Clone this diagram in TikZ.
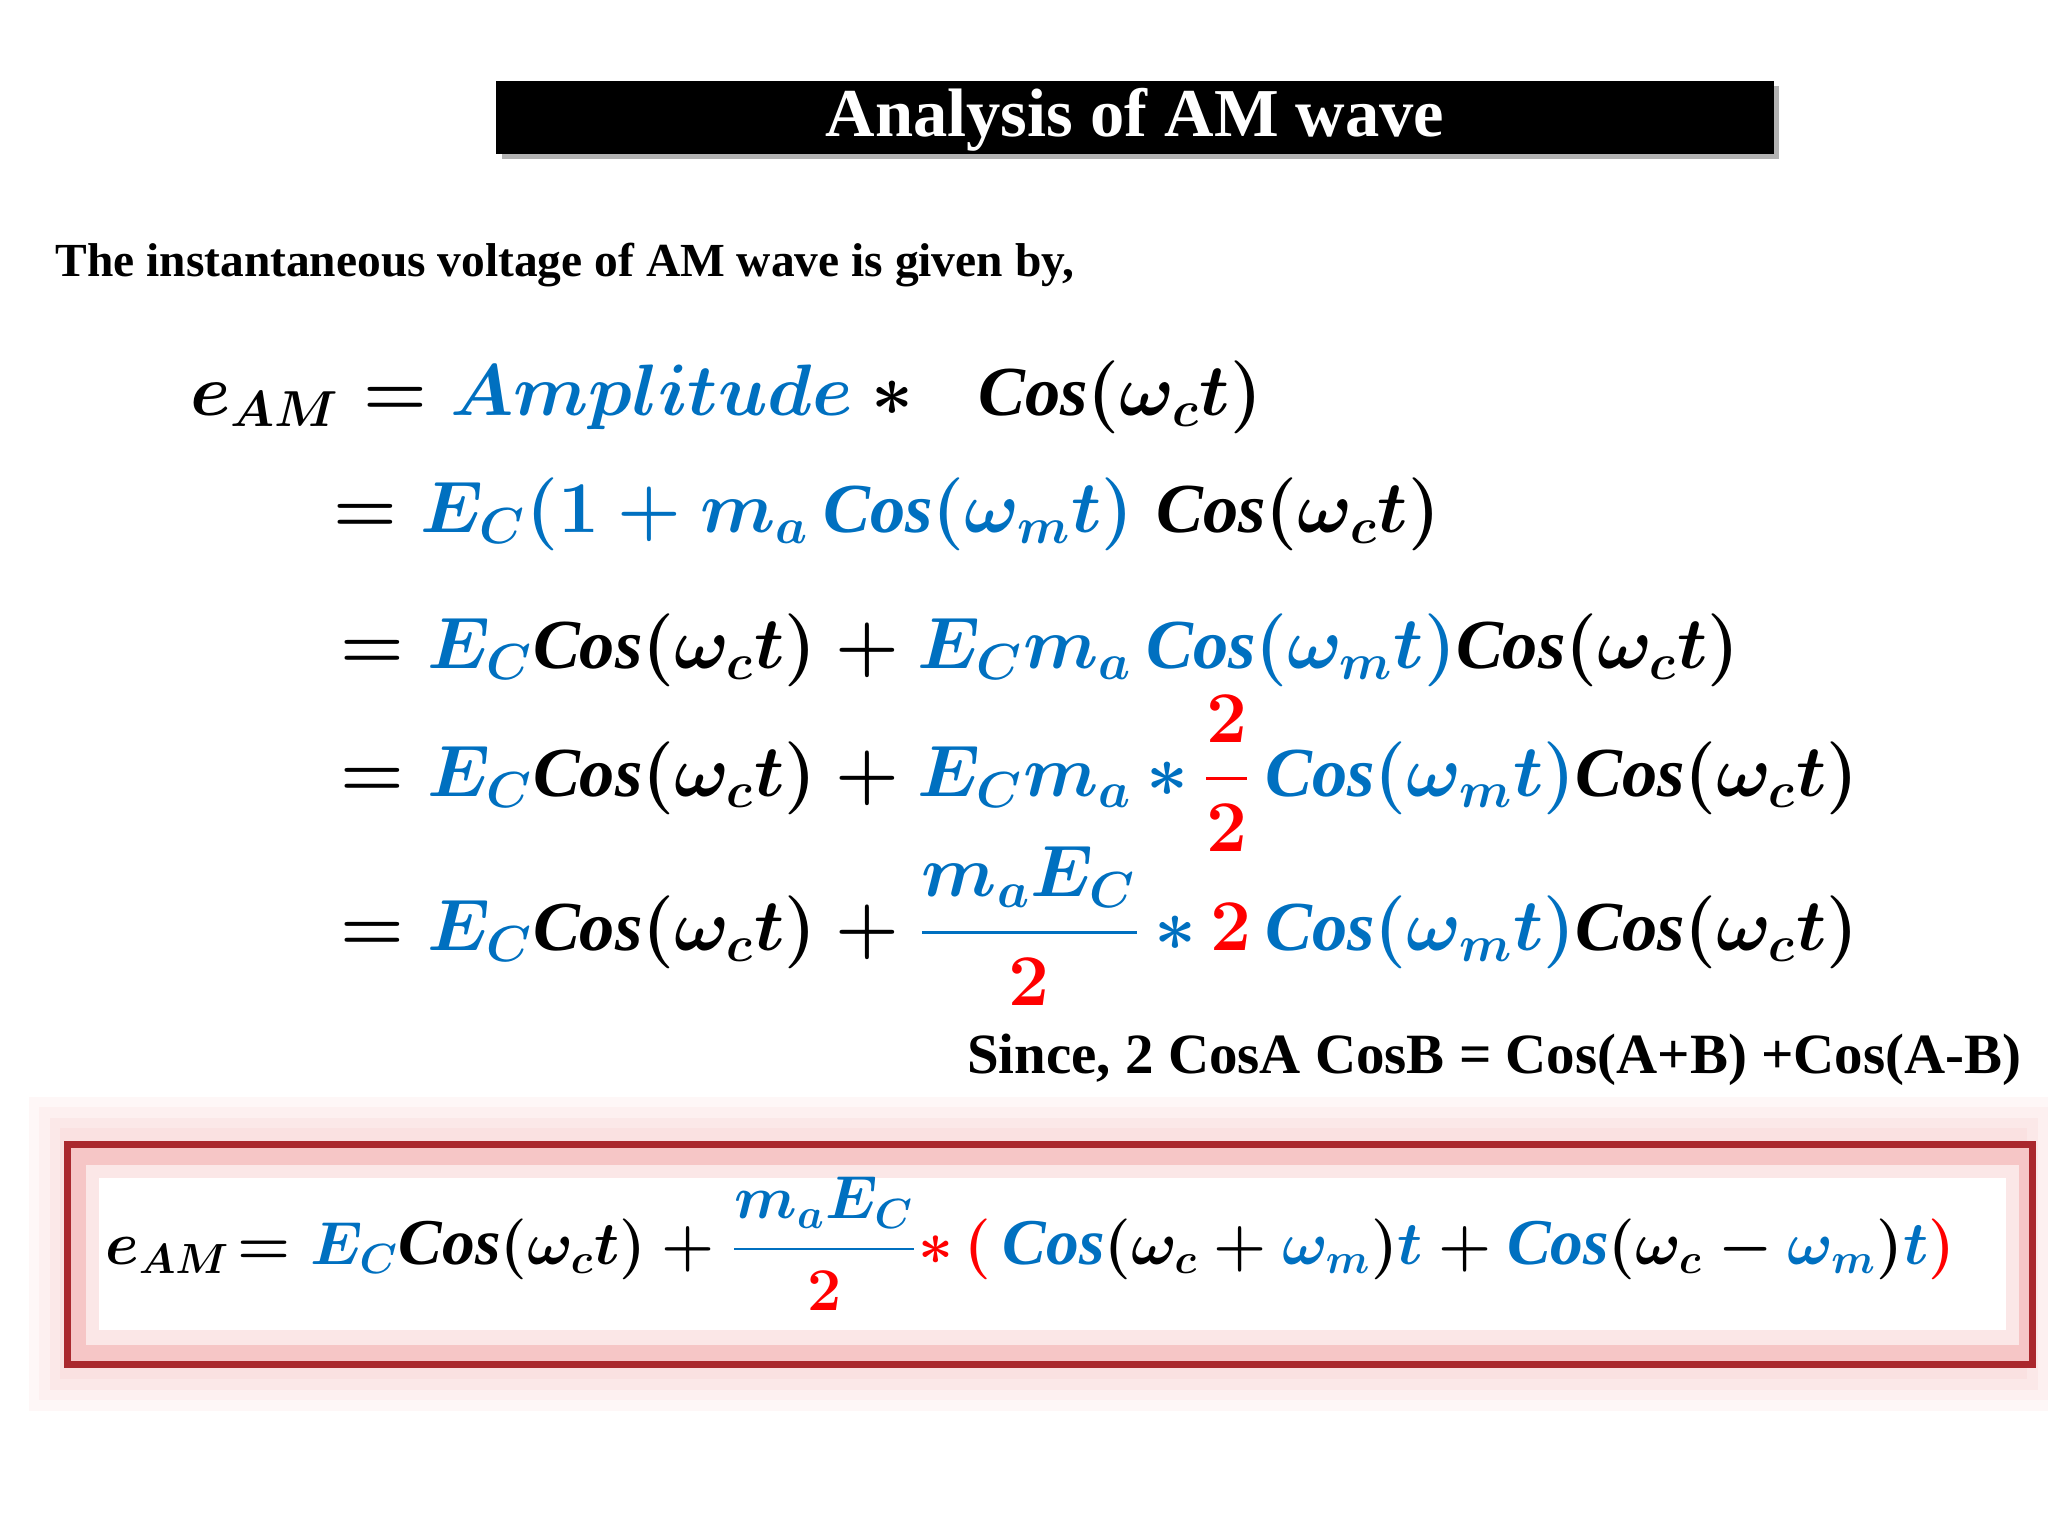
\documentclass[tikz,border=0pt]{standalone}
\usepackage{amsmath}
\usepackage{fontspec}
\setmainfont{Liberation Serif}
\definecolor{bl}{RGB}{0,112,192}
\definecolor{rd}{RGB}{255,0,0}
\definecolor{dr}{RGB}{170,40,45}
\definecolor{pk}{RGB}{240,160,160}
\newcommand{\B}[1]{{\color{bl}#1}}
\newcommand{\R}[1]{{\color{rd}#1}}
\newcommand{\Co}{\mathit{Cos}}
\begin{document}
\begin{tikzpicture}[x=0.01306cm,y=-0.01306cm,
  eq/.style={anchor=base west,inner sep=0pt,font=\fontsize{20}{24}\selectfont\boldmath},
  txt/.style={anchor=base west,inner sep=0pt,font=\fontsize{13.5}{16}\selectfont\bfseries}]
\useasboundingbox (0,0) rectangle (1568,1176);
\fill[gray!60] (384,66) rectangle (1362,122);
\fill[black] (380,62) rectangle (1358,118);
\node[font=\fontsize{19.5}{22}\selectfont\bfseries,text=white] (title) at (869,92) {Analysis of AM wave};
\node[txt] (intro) at (42,212) {The instantaneous voltage of AM wave is given by,};
\node[eq] (l1) at (145,318) {$e_{AM}=\B{Amplitude}*\;\;\Co(\omega_ct)$};
\node[eq] (l2) at (255,408) {$=\B{E_C(1+m_a\,\Co(\omega_mt)}\;\Co(\omega_ct)$};
\node[eq] (l3) at (260,512) {$=\B{E_C}\Co(\omega_ct)+\B{E_Cm_a\,\Co(\omega_mt)}\Co(\omega_ct)$};
\node[eq] (l4) at (260,610) {$=\B{E_C}\Co(\omega_ct)+\B{E_Cm_a}\,\B{*}\,\R{\dfrac{2}{2}}\,\B{\Co(\omega_mt)}\Co(\omega_ct)$};
\node[eq] (l5) at (260,728) {$=\B{E_C}\Co(\omega_ct)+{\color{bl}\dfrac{m_aE_C}{\R{2}}}\,\B{*}\,\R{2}\,\B{\Co(\omega_mt)}\Co(\omega_ct)$};
\node[txt,font=\fontsize{16.2}{18}\selectfont\bfseries] (since) at (740,822) {Since, 2 CosA CosB = Cos(A+B) +Cos(A-B)};
\foreach \i/\o in {0/8,8/16,16/24,24/32}{
  \draw[pk!\o!white,line width=6] (30+\i,848+\i) rectangle (1568-\i,1072-\i);}
\fill[pk!60!white] (52,876) rectangle (1556,1045);
\fill[pk!25!white] (66,892) rectangle (1546,1030);
\fill[white] (76,902) rectangle (1536,1018);
\draw[dr,line width=2] (52,876) rectangle (1556,1045);
\node[eq,font=\fontsize{18.6}{22}\selectfont\boldmath] (fin) at (80,968) {$e_{AM}\!=\B{E_C}\Co(\omega_ct)+{\color{bl}\dfrac{m_aE_C}{\R{2}}}\R{*\,(}\,\B{\Co}(\omega_c+\B{\omega_m})\B{t}+\B{\Co}(\omega_c-\B{\omega_m})\B{t}\R{)}$};
\end{tikzpicture}
\end{document}
